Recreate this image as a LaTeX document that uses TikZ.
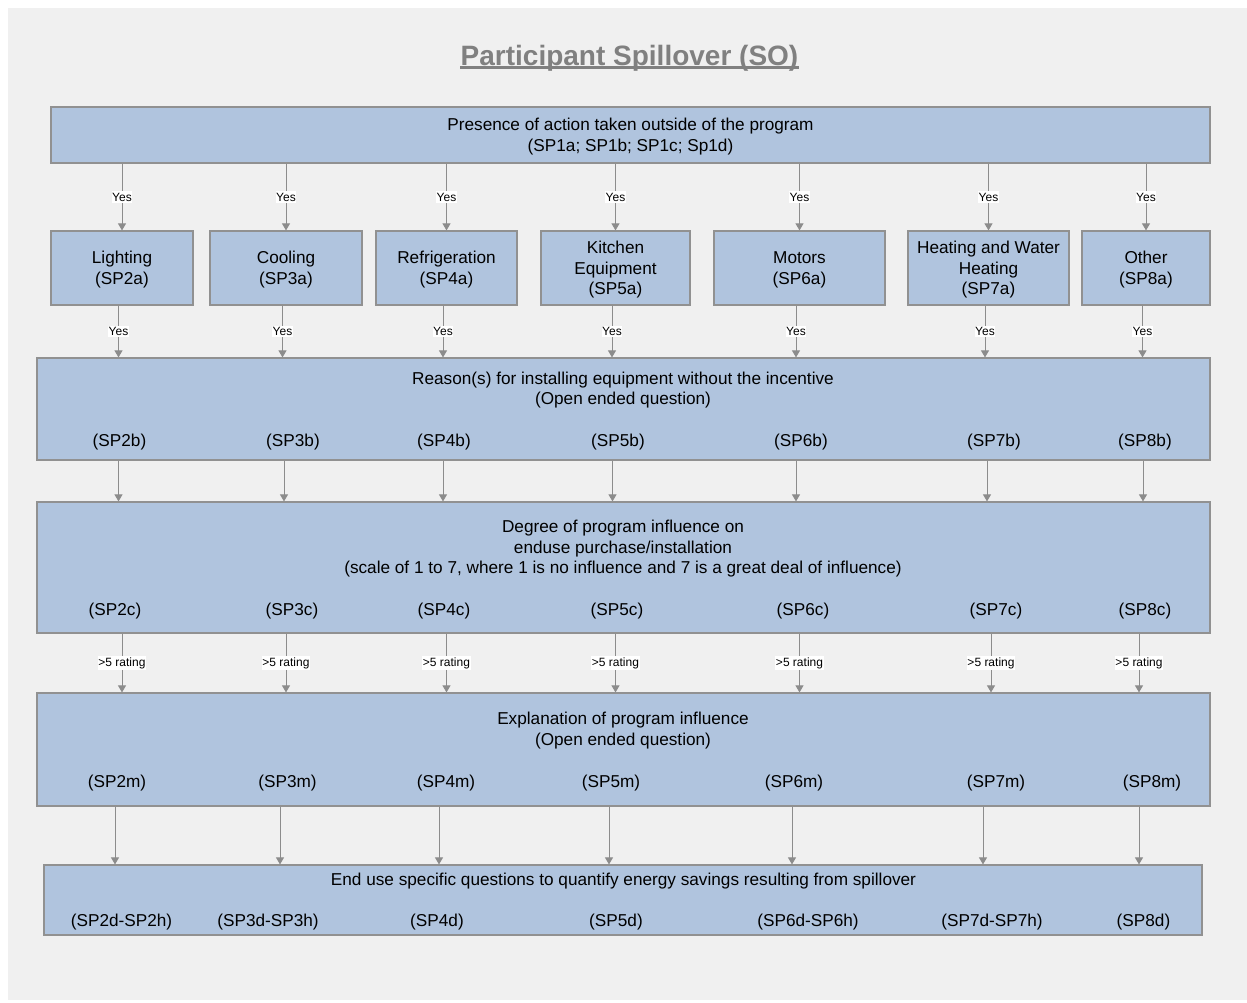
\documentclass[tikz,border=0pt]{standalone}
\usepackage{fontspec}
\setmainfont{Liberation Sans}
\usetikzlibrary{arrows.meta}

\definecolor{boxblue}{RGB}{176,196,222}
\definecolor{pagegray}{RGB}{240,240,240}
\definecolor{boxline}{RGB}{145,145,145}
\definecolor{arrowgray}{RGB}{140,140,140}
\definecolor{titlegray}{RGB}{128,128,128}

\begin{document}
\begin{tikzpicture}[x=1pt,y=-1pt,
  every node/.style={font=\fontsize{17.2}{20.5}\selectfont},
  catbox/.style={draw=boxline,line width=1.2pt,fill=boxblue,minimum height=74pt,align=center,inner sep=0pt,text depth=0pt},
  widebox/.style={draw=boxline,line width=1.2pt,fill=boxblue,minimum width=1173pt,inner sep=0pt},
  arr/.style={draw=arrowgray,line width=0.9pt,-{Triangle[width=8pt,length=7pt]}},
  yeslbl/.style={fill=white,inner xsep=0.5pt,inner ysep=1.5pt,font=\fontsize{12}{14}\selectfont}]
\useasboundingbox (0,0) rectangle (1247,1002);
\fill[white] (0,0) rectangle (1247,1002);
\fill[pagegray] (8,8) rectangle (1247,1000);
% title
\node[font=\fontsize{28}{31}\selectfont\bfseries,text=titlegray,anchor=base,inner sep=0pt] (title) at (629.5,65) {Participant Spillover (SO)};
\draw[titlegray,line width=2.2pt] ([yshift=-2.5pt]title.base west) -- ([yshift=-2.5pt]title.base east);
% boxes
\node[widebox,minimum width=1159pt,minimum height=56pt,align=center,text depth=0pt] (action) at (630.5,135) {Presence of action taken outside of the program\\(SP1a; SP1b; SP1c; Sp1d)};
\node[catbox,minimum width=142pt] (light) at (122,268) {Lighting\\(SP2a)};
\node[catbox,minimum width=152pt] (cool) at (286,268) {Cooling\\(SP3a)};
\node[catbox,minimum width=141pt] (fridge) at (446.5,268) {Refrigeration\\(SP4a)};
\node[catbox,minimum width=149pt] (kitchen) at (615.5,268) {Kitchen\\Equipment\\(SP5a)};
\node[catbox,minimum width=171pt] (motor) at (799.5,268) {Motors\\(SP6a)};
\node[catbox,minimum width=161pt] (heat) at (988.5,268) {Heating and Water\\Heating\\(SP7a)};
\node[catbox,minimum width=128pt] (other) at (1146,268) {Other\\(SP8a)};
\node[widebox,minimum height=102pt] (reason) at (623.5,409) {};
\node[widebox,minimum height=131pt] (degree) at (623.5,567.5) {};
\node[widebox,minimum height=113pt] (explain) at (623.5,749.5) {};
\node[widebox,minimum width=1158pt,minimum height=70pt] (enduse) at (623,900) {};
% texts in the wide boxes
\node[align=center] (reasontxt) at (623,390) {Reason(s) for installing equipment without the incentive\\(Open ended question)};
\node (sp2b) at (119.5,442) {(SP2b)};
\node (sp3b) at (293,442) {(SP3b)};
\node (sp4b) at (444,442) {(SP4b)};
\node (sp5b) at (618,442) {(SP5b)};
\node (sp6b) at (801,442) {(SP6b)};
\node (sp7b) at (994,442) {(SP7b)};
\node (sp8b) at (1145,442) {(SP8b)};
\node[align=center] (degreetxt) at (623,549) {Degree of program influence on\\enduse purchase/installation\\(scale of 1 to 7, where 1 is no influence and 7 is a great deal of influence)};
\node (sp2c) at (115,611) {(SP2c)};
\node (sp3c) at (292,611) {(SP3c)};
\node (sp4c) at (444,611) {(SP4c)};
\node (sp5c) at (617,611) {(SP5c)};
\node (sp6c) at (803,611) {(SP6c)};
\node (sp7c) at (996,611) {(SP7c)};
\node (sp8c) at (1145,611) {(SP8c)};
\node[align=center] (explaintxt) at (623,730.5) {Explanation of program influence\\(Open ended question)};
\node (sp2m) at (117,783) {(SP2m)};
\node (sp3m) at (287.5,783) {(SP3m)};
\node (sp4m) at (446,783) {(SP4m)};
\node (sp5m) at (611,783) {(SP5m)};
\node (sp6m) at (794,783) {(SP6m)};
\node (sp7m) at (996,783) {(SP7m)};
\node (sp8m) at (1152,783) {(SP8m)};
\node (endusetxt) at (623.5,881) {End use specific questions to quantify energy savings resulting from spillover};
\node (sp2d) at (121.5,922) {(SP2d-SP2h)};
\node (sp3d) at (268,922) {(SP3d-SP3h)};
\node (sp4d) at (437,922) {(SP4d)};
\node (sp5d) at (616,922) {(SP5d)};
\node (sp6d) at (808,922) {(SP6d-SP6h)};
\node (sp7d) at (992,922) {(SP7d-SP7h)};
\node (sp8d) at (1143.5,922) {(SP8d)};
% action -> end uses
\draw[arr] (action.south -| light) -- node[yeslbl]{Yes} (light);
\draw[arr] (action.south -| cool) -- node[yeslbl]{Yes} (cool);
\draw[arr] (action.south -| fridge) -- node[yeslbl]{Yes} (fridge);
\draw[arr] (action.south -| kitchen) -- node[yeslbl]{Yes} (kitchen);
\draw[arr] (action.south -| motor) -- node[yeslbl]{Yes} (motor);
\draw[arr] (action.south -| heat) -- node[yeslbl]{Yes} (heat);
\draw[arr] (action.south -| other) -- node[yeslbl]{Yes} (other);
% end uses -> reasons
\draw[arr] ([xshift=-3.5pt]light.south) -- node[yeslbl]{Yes} ([xshift=-3.5pt]reason.north -| light);
\draw[arr] ([xshift=-3.5pt]cool.south) -- node[yeslbl]{Yes} ([xshift=-3.5pt]reason.north -| cool);
\draw[arr] ([xshift=-3.5pt]fridge.south) -- node[yeslbl]{Yes} ([xshift=-3.5pt]reason.north -| fridge);
\draw[arr] ([xshift=-3.5pt]kitchen.south) -- node[yeslbl]{Yes} ([xshift=-3.5pt]reason.north -| kitchen);
\draw[arr] ([xshift=-3.5pt]motor.south) -- node[yeslbl]{Yes} ([xshift=-3.5pt]reason.north -| motor);
\draw[arr] ([xshift=-3.5pt]heat.south) -- node[yeslbl]{Yes} ([xshift=-3.5pt]reason.north -| heat);
\draw[arr] ([xshift=-3.5pt]other.south) -- node[yeslbl]{Yes} ([xshift=-3.5pt]reason.north -| other);
% reasons -> degree
\draw[arr] ([xshift=-3.5pt]reason.south -| light) -- ([xshift=-3.5pt]degree.north -| light);
\draw[arr] ([xshift=-2pt]reason.south -| cool) -- ([xshift=-2pt]degree.north -| cool);
\draw[arr] ([xshift=-3.5pt]reason.south -| fridge) -- ([xshift=-3.5pt]degree.north -| fridge);
\draw[arr] ([xshift=-3pt]reason.south -| kitchen) -- ([xshift=-3pt]degree.north -| kitchen);
\draw[arr] ([xshift=-3.5pt]reason.south -| motor) -- ([xshift=-3.5pt]degree.north -| motor);
\draw[arr] ([xshift=-1.5pt]reason.south -| heat) -- ([xshift=-1.5pt]degree.north -| heat);
\draw[arr] ([xshift=-3pt]reason.south -| other) -- ([xshift=-3pt]degree.north -| other);
% degree -> explanation
\draw[arr] (degree.south -| light) -- node[yeslbl]{>5 rating} (explain.north -| light);
\draw[arr] (degree.south -| cool) -- node[yeslbl]{>5 rating} (explain.north -| cool);
\draw[arr] (degree.south -| fridge) -- node[yeslbl]{>5 rating} (explain.north -| fridge);
\draw[arr] (degree.south -| kitchen) -- node[yeslbl]{>5 rating} (explain.north -| kitchen);
\draw[arr] (degree.south -| motor) -- node[yeslbl]{>5 rating} (explain.north -| motor);
\draw[arr] ([xshift=2.5pt]degree.south -| heat) -- node[yeslbl]{>5 rating} ([xshift=2.5pt]explain.north -| heat);
\draw[arr] ([xshift=-7pt]degree.south -| other) -- node[yeslbl]{>5 rating} ([xshift=-7pt]explain.north -| other);
% explanation -> end use questions
\draw[arr] ([xshift=-7pt]explain.south -| light) -- ([xshift=-7pt]enduse.north -| light);
\draw[arr] ([xshift=-6pt]explain.south -| cool) -- ([xshift=-6pt]enduse.north -| cool);
\draw[arr] ([xshift=-7.5pt]explain.south -| fridge) -- ([xshift=-7.5pt]enduse.north -| fridge);
\draw[arr] ([xshift=-6.5pt]explain.south -| kitchen) -- ([xshift=-6.5pt]enduse.north -| kitchen);
\draw[arr] ([xshift=-7.5pt]explain.south -| motor) -- ([xshift=-7.5pt]enduse.north -| motor);
\draw[arr] ([xshift=-5.5pt]explain.south -| heat) -- ([xshift=-5.5pt]enduse.north -| heat);
\draw[arr] ([xshift=-7pt]explain.south -| other) -- ([xshift=-7pt]enduse.north -| other);
\end{tikzpicture}
\end{document}
